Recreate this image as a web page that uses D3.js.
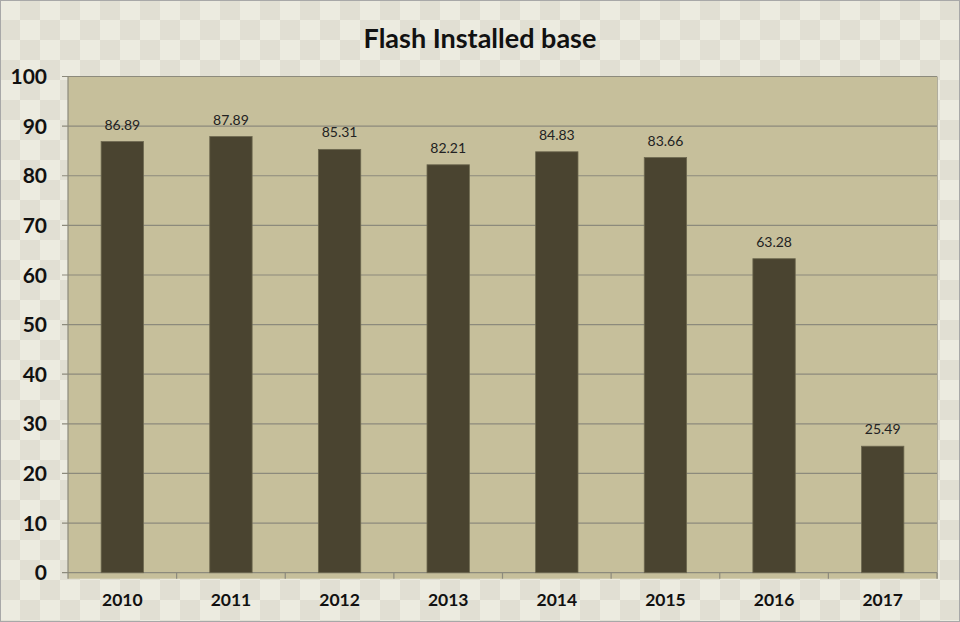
<!DOCTYPE html>
<html><head><meta charset="utf-8">
<script src="https://cdn.jsdelivr.net/npm/d3@7"></script>
<style>body{margin:0;background:#fff}svg{display:block}</style>
</head><body><svg id="c" width="960" height="622"></svg>
<script>
const categories = ["2010","2011","2012","2013","2014","2015","2016","2017"];
const values = [86.89, 87.89, 85.31, 82.21, 84.83, 83.66, 63.28, 25.49];
const yTicks = [0,10,20,30,40,50,60,70,80,90,100];
const title = "Flash Installed base";

(function(){
const W = 960, H = 622;
const svg = d3.select("#c");
const font = "Lato, 'Open Sans', sans-serif";

// checkerboard background
const sq = 20;
const cells = [];
for (let r = 0; r < Math.ceil(H/sq); r++) for (let c = 0; c < Math.ceil(W/sq); c++) cells.push([r,c]);
svg.append("g").selectAll("rect").data(cells).join("rect")
  .attr("x", d => d[1]*sq).attr("y", d => d[0]*sq).attr("width", sq).attr("height", sq)
  .attr("fill", d => (d[0]+d[1])%2 === 0 ? "#ecebe0" : "#e1dfd3");
svg.append("rect").attr("x",0.5).attr("y",0.5).attr("width",W-1).attr("height",H-1)
  .attr("fill","none").attr("stroke","#a8a8a8");

const pL = 68, pR = 937, pT = 76.5, pB = 572.7;
const x = d3.scaleBand().domain(categories).range([pL, pR]);
const y = d3.scaleLinear().domain([0,100]).range([pB, pT]);

// plot area
svg.append("rect").attr("x", pL).attr("y", pT).attr("width", pR-pL).attr("height", pB-pT+6)
  .attr("fill", "#c6bf9b");
svg.append("line").attr("x1", pR+0.5).attr("x2", pR+0.5).attr("y1", pT).attr("y2", pB+6)
  .attr("stroke","#b0ad9e");

// gridlines + y ticks
svg.append("g").selectAll("line").data(yTicks).join("line")
  .attr("x1", pL-6).attr("x2", pR).attr("y1", d => y(d)).attr("y2", d => y(d))
  .attr("stroke", "#8c8a7c").attr("stroke-width", 1.2);
svg.append("line").attr("x1", pL).attr("x2", pL).attr("y1", pT).attr("y2", pB)
  .attr("stroke","#8c8a7c").attr("stroke-width",1.2);
// x ticks
const xTickPos = categories.map(c => x(c)).concat([pR]);
svg.append("g").selectAll("line").data(xTickPos).join("line")
  .attr("x1", d => d).attr("x2", d => d).attr("y1", pB).attr("y2", pB+6)
  .attr("stroke","#8c8a7c").attr("stroke-width",1.2);

svg.append("g").selectAll("text").data(yTicks).join("text")
  .attr("x", 47).attr("y", d => y(d)).attr("dy","0.36em").attr("text-anchor","end")
  .attr("font-family", font).attr("font-weight","bold").attr("font-size", 21).attr("fill","#111")
  .text(d => d);

// bars
const bw = x.bandwidth()*0.39;
svg.append("g").selectAll("rect").data(values).join("rect")
  .attr("x", (d,i) => x(categories[i]) + x.bandwidth()/2 - bw/2)
  .attr("y", d => y(d)).attr("width", bw).attr("height", d => pB - y(d))
  .attr("fill", "#4a4430").attr("stroke","#6d6850").attr("stroke-width",0.8);

// value labels
svg.append("g").selectAll("text").data(values).join("text")
  .attr("x", (d,i) => x(categories[i]) + x.bandwidth()/2).attr("y", d => y(d) - 12)
  .attr("text-anchor","middle").attr("font-family", font).attr("font-size", 14).attr("fill","#222")
  .text(d => d.toFixed(2));

// x labels
svg.append("g").selectAll("text").data(categories).join("text")
  .attr("x", c => x(c) + x.bandwidth()/2).attr("y", 600).attr("dy","0.36em").attr("text-anchor","middle")
  .attr("font-family", font).attr("font-weight","bold").attr("font-size", 17.5).attr("fill","#111")
  .text(c => c);

svg.append("text").attr("x", 480).attr("y", 38).attr("dy","0.36em").attr("text-anchor","middle")
  .attr("font-family", font).attr("font-weight","bold").attr("font-size", 27).attr("fill","#111")
  .text(title);
})();
</script></body></html>
